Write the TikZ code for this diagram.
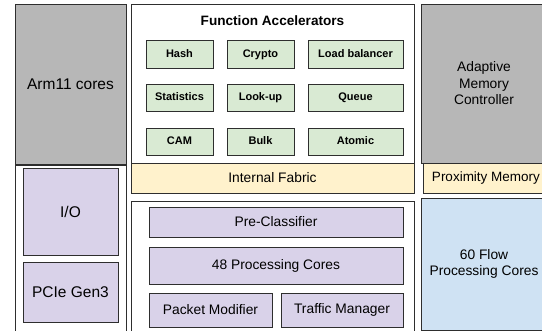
\documentclass[tikz,border=0pt]{standalone}
\usepackage{fontspec}
\setmainfont{Liberation Sans}
\definecolor{bordc}{HTML}{2E2E2E}
\definecolor{grayf}{HTML}{B7B7B7}
\definecolor{greenf}{HTML}{D9EAD3}
\definecolor{yellowf}{HTML}{FFF2CC}
\definecolor{purplef}{HTML}{D9D2E9}
\definecolor{bluef}{HTML}{CFE2F3}
\begin{document}
\begin{tikzpicture}[x=1pt,y=-1pt,
  box/.style={draw=bordc, line width=0.9pt, inner sep=0pt, outer sep=0pt, align=center},
  big/.style={font=\fontsize{15.5}{18}\selectfont},
  mid/.style={font=\fontsize{13.8}{16}\selectfont},
  rgt/.style={font=\fontsize{13.8}{16.5}\selectfont},
  acc/.style={box, fill=greenf, minimum height=27.5pt, text height=8pt, text depth=2.2pt, font=\fontsize{11}{13}\selectfont\bfseries},
]
\useasboundingbox (0,0) rectangle (542,331);
\clip (0,0) rectangle (542,331);
\fill[white] (0,0) rectangle (542,331);
% left column
\node[box, fill=grayf, minimum width=111pt, minimum height=160pt, big] (arm) at (70.5,84) {Arm11 cores};
\node[box, fill=white, minimum width=111pt, minimum height=180pt] (lb) at (70.5,255) {};
\node[box, fill=purplef, minimum width=95pt, minimum height=87pt, big] (io) at (70.5,211.5) {I/O};
\node[box, fill=purplef, minimum width=95pt, minimum height=60pt, big] (pcie) at (70.5,292) {PCIe Gen3};
% middle top
\node[box, fill=white, minimum width=283pt, minimum height=159pt] (fa) at (272.5,83.5) {};
\node[font=\fontsize{13.6}{15}\selectfont\bfseries, inner sep=0pt] (fat) at (272.5,21) {Function Accelerators};
\node[acc, minimum width=67pt] (hash) at (179.5,54.5) {Hash};
\node[acc, minimum width=67pt] (crypto) at (260.5,54.5) {Crypto};
\node[acc, minimum width=95pt] (lbal) at (355.5,54.5) {Load balancer};
\node[acc, minimum width=67pt] (stat) at (179.5,98) {Statistics};
\node[acc, minimum width=67pt] (look) at (260.5,98) {Look-up};
\node[acc, minimum width=95pt] (queue) at (355.5,98) {Queue};
\node[acc, minimum width=67pt] (cam) at (179.5,142) {CAM};
\node[acc, minimum width=67pt] (bulk) at (260.5,142) {Bulk};
\node[acc, minimum width=95pt] (atom) at (355.5,142) {Atomic};
\node[box, fill=yellowf, minimum width=283pt, minimum height=30pt, mid] (fab) at (272.5,178) {Internal Fabric};
% middle bottom
\node[box, fill=white, minimum width=283pt, minimum height=144pt] (pp) at (272.5,273) {};
\node[box, fill=purplef, minimum width=254pt, minimum height=30pt, mid] (pre) at (276,222) {Pre-Classifier};
\node[box, fill=purplef, minimum width=254pt, minimum height=37pt, mid] (pc48) at (276,265.5) {48 Processing Cores};
\node[box, fill=purplef, minimum width=123pt, minimum height=34pt, mid] (pm) at (210.5,310) {Packet Modifier};
\node[box, fill=purplef, minimum width=122pt, minimum height=34pt, mid] (tm) at (342,310) {Traffic Manager};
% right column
\node[box, fill=grayf, minimum width=126pt, minimum height=159pt, rgt] (amc) at (484,83.5) {Adaptive\\Memory\\Controller};
\node[box, fill=yellowf, minimum width=126pt, minimum height=30pt, font=\fontsize{13.5}{15}\selectfont] (prox) at (486,178) {Proximity Memory};
\node[box, fill=bluef, minimum width=126pt, minimum height=132pt, rgt] (flow) at (484,264) {60 Flow\\Processing Cores};
\end{tikzpicture}
\end{document}
